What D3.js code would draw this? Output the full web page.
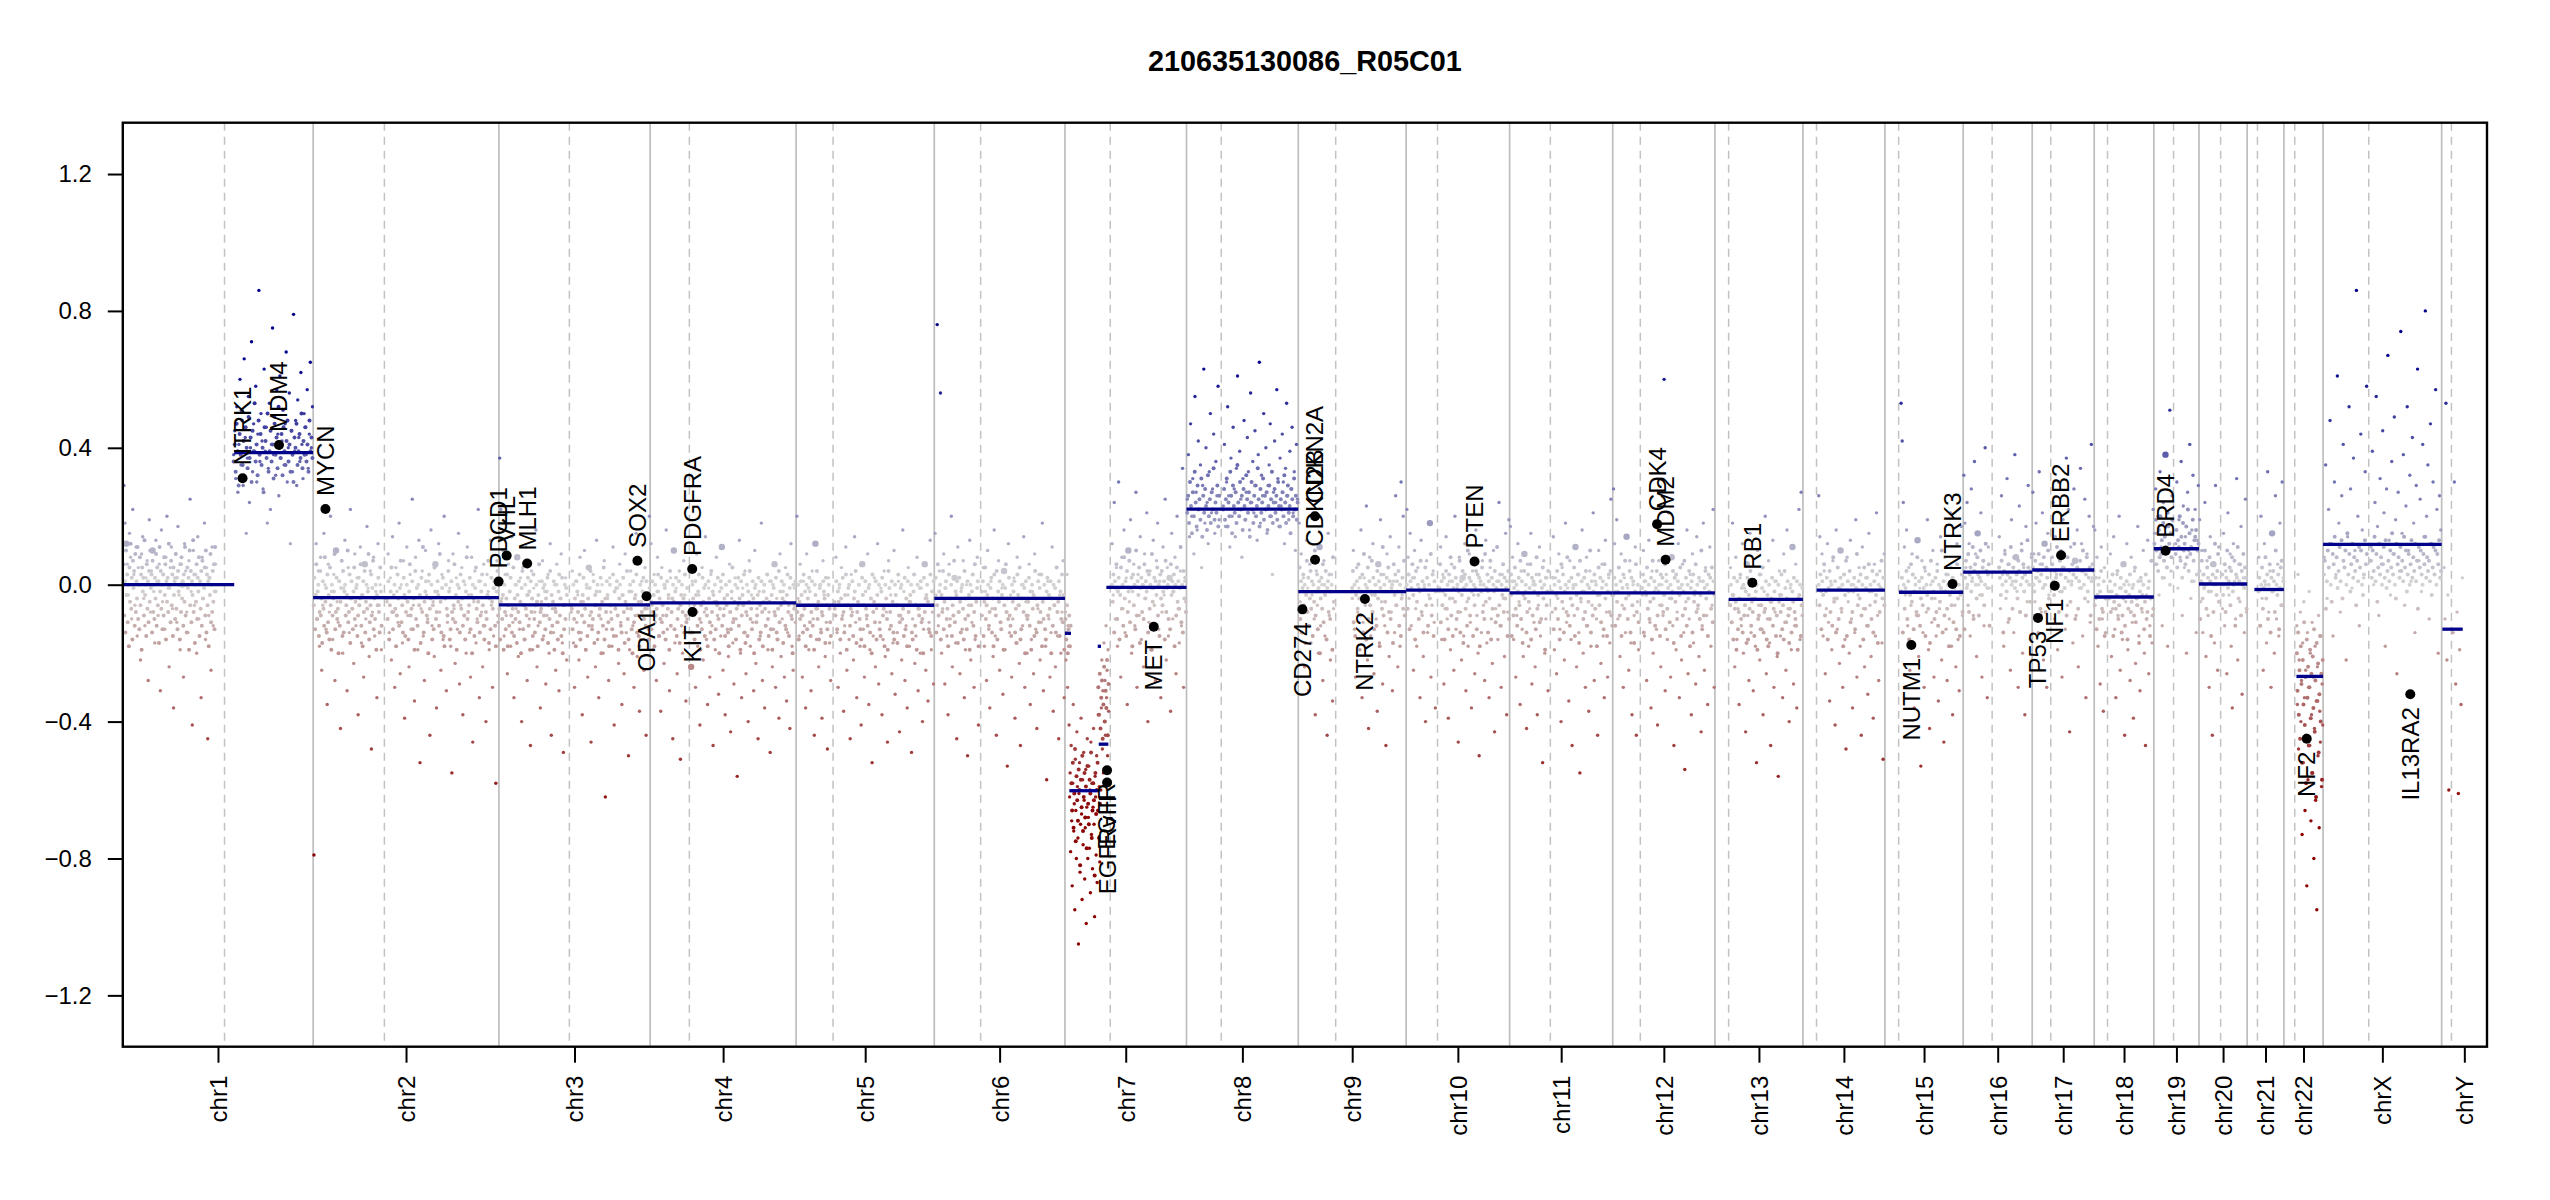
<!DOCTYPE html>
<html>
<head>
<meta charset="utf-8">
<script src="https://cdnjs.cloudflare.com/ajax/libs/d3/7.8.5/d3.min.js"></script>
<style>
  body { margin: 0; background: #ffffff; }
  svg text { font-family: "Liberation Sans", Arial, Helvetica, sans-serif; }
</style>
</head>
<body>
<svg id="chart" width="2550" height="1200"></svg>
<script>
// chromosome layout (hg19, Mb)
const chrNames = ["chr1","chr2","chr3","chr4","chr5","chr6","chr7","chr8","chr9","chr10","chr11","chr12",
  "chr13","chr14","chr15","chr16","chr17","chr18","chr19","chr20","chr21","chr22","chrX","chrY"];
const chrLength = [249.25, 243.2, 198.02, 191.15, 180.92, 171.12, 159.14, 146.36, 141.21, 135.53, 135.01, 133.85,
  115.17, 107.35, 102.53, 90.35, 81.2, 78.08, 59.13, 63.03, 48.13, 51.3, 155.27, 59.37];
const chrCentromere = [133.2, 93.3, 92.3, 51.4, 48.4, 60.7, 59.3, 45.5, 49.0, 41.1, 53.3, 36.1,
  17.9, 17.8, 18.0, 37.9, 24.3, 17.4, 25.8, 28.3, 13.5, 14.2, 59.8, 12.8];
// probe covered part of each arm
const armP = [[0.8,122],[0.3,90],[0.3,89.5],[0.3,49],[0.3,46],[0.3,58.5],[0.3,57.5],[0.3,43.5],[0.3,47],[0.3,39],[0.3,51],[0.3,34.5],
  null,null,null,[0.1,35],[0.1,22.5],[0.1,15.5],[0.3,24.5],[0.1,26.5],null,null,[0.5,58],[2.5,10]];
const armQ = [[144.5,249],[96,242.8],[94,197.8],[53,190.9],[50,180.6],[62,170.8],[61,158.9],[47.5,146.1],[70,141],[43,135.3],[55,134.8],[38,133.6],
  [19.5,115],[20,107.1],[20.5,102.3],[46.5,90.2],[25.5,81],[19,77.9],[28,59],[30,62.9],[14.5,48],[16.5,51.2],[62,155],[14,28]];

// scattered bins: log2 ratio x100 along each arm, "*" = large dot
const binsP = [
  "29 18 12* 6 -3 15 8 -10 22 3 -6 11 -15 5 0 -22 9 14 -4 -12 2 7 -28 19 -8 4 10* -2 -17 13 1 -9 6 -31 16 -5 3 -13 8 20 -1 -24 5 11 -7 -36 2 9 -11 17 -3 -19 6 0* -27 12 4 -8 -14 7 25 -2 -41 10 -6 3 -20 14 -10 1 -33 8 -4 18 -16 5 -45 -9 2 -25 11 -12 -2 6",
  "-79 -3 12 -10 4 -18 8 -25 -6 15 0 -13 -35 6 -8 20 -2 -16 3 -28 10* -5 -11 1 -42 7 -20 -1 13 -9 -31 5 -14 22 -4 -7 -23 9 -12 2 -38 -6 11 -17 -3 -27 6* -10 17 -1 -21 4 -48 -8 8 -15 -2 -33 12 -6 0 -19",
  "37 22 -4 10 -15 3 -9 -26 6 -2 -18 14 -11 -33 0 -7 8* -21 -13 2 -40 5 -6 -16 11 -28 -3 -10 -47 4 -19 -1 -8 16 -24 -12 1 -36 -5 7 -15 -2 -29 -9 3 -20 12 -44 -7 -14 0 -25 6 -11 -31 -4 9 -17 -49 -6 2 -22",
  "12 -6 -19 3 -11 -28 8 -2 -15 -37 5 -9 -23 0 16 -13 -4 -31 2 -8 -45 10* -17 -1 -26 -7 4 -51 -12 -20 7 -3 -34 -10",
  "20 -4 -15 6 -9 -27 1 -12 -36 9 -6 -19 -2 -31 4 -10 -44 12* -16 -7 -24 0 -13 -39 7 -3 -21 -11 -48 2 -17 -28",
  "15 -3 76 -12 4 56 -20 -7 9 -29 -1 -15 -38 6 -10 20 -24 -4 2* -17 -45 11 -8 -26 -2 -13 7 -33 -19 0 -50 -6 13 -22 -11 3 -30 -16 -5 8 -41",
  "-8 -22 -14 3 -30 -12 -18 -41 -62 -55 -78 -47 -69 -88 -58 -35 -72 -64 -95 -51 -66 -80 -43 -59 -74 -105 -61 -52 -84 -70 -39 -67 -92 -57 -76 -49 -63 -86 -71 -54 -99 -65 -45 -80 -68 -53 -77 -60 -90 -46 -73 -58 -83 -65 -42 -70 -97 -56 -62 -79 -50 -87 -66 -38 -74 -59 -81 -64 -60 -36 -22 -48 -31 -55 -17 -40 -28 -44 -12 -33 -25 -50 -19 -37",
  "25 38 14 47 20 31 9 55 27 16 42 22 35 5 29 63 18 40 24 12 33 50 21 28 44 15 36 26 58 19",
  "18 -5 9 -14 2 -24 -8 13 -1 -31 6 -17 -3 21 -10 -38 4 -6 -20 11* -12 0 -28 7 -15 -2 -44 15 -9 -22 3 -34 -7",
  "22 8 -4 15 -12 2 -25 10 -7 -18 5 -1 -33 13 -9 -21 0 -40 7 -14 -3 18* -27 -6 4 -11 -36",
  "17 -3 8 -16 1 -27 -9 12 -5 -35 4 -13 -21 9* -2 -42 6 -18 -7 15 -29 0 -11 -24 3 -38 -6 11 -15 -1 -52 7 -20 -10 2 -31",
  "28 12 -2 19 -10 5 -21 9 -6 -30 2 -14 14* -1 -25 7 -17 -38 0 -9 11 -44 -5 -19",
  "", "", "",
  "32 18 5 24 -6 12 -15 28 2 -9 36 9 -21 15* 0 -3 21 -27 7 -12 40 4 -33 11 -1",
  "27 9 -5 18 2 -14 33 6 -8 21 -22 12* 0 -30 15 -3",
  "16 -4 8 -18 2 -29 11 -10 -37 5 -14",
  "15 28 6 20 -3 33 11 -12 24 2 38* 9 -18 17 51 4 26",
  "19 -5 10 -14 3 24 -21 7 -9 -30 14 -2 -44 6* -17 29 0 -25 11",
  "", "",
  "8 35 -4 22 48 12 -15 30 3 61 18 -8 26 41 5 -22 14 52 28 -1 37 10 86 20 -12 44 16 2 33 58",
  "5 -10 53 -22 -3 -60"
];
const binsQ = [
  "38 45 31 52 27 41 60 35 48 29 66 43 15 37 55 24 40 71 33 47 39 58 30 44 86 36 50 42 28 63 39 46 18 34 53 22 41 75 38 49 32 57 44 26 61 37 42 51 35 47 68 30 40 56 12 45 33 79 39 48 29 54 43 36 62 41 31 50 46 38 57 34 44 65 40 52",
  "-5 9 -14 2 -22 14 -8 -30 5 -2 -11 18 -26 0 -17 7 -39 -4 11 -9 -24 3 -13 25 -6 -34 8 -1 -19 13 -52 -7 4 -15 -28 10 -3 -10 1 -44 16 -12 -5 -21 6* -36 -2 12 -8 -25 3 -16 20 -4 -31 -11 7 -1 -18 -55 9 -7 -23 2 -13 15 -29 -6 5 -38 -9 0 -20 11 -3 -14 -27 8 -46 -5 4 -17 -10 22 -33 1 -8 -24 6 -12 -40 3 -2 -19 13 -6 -30 -15 -1 -58 7 -11",
  "-8 4 -17 -30 1 -11 -3 -22 8 -14 -38 -5 10 -19 -1 -27 5* -9 -46 -12 3 -6 -24 13 -16 -33 -2 -10 0 -20 7 -62 -13 -4 -28 2 -8 -18 11 -41 -6 -15 -1 -23 6 -11 -35 -3 -26 9 -14 -7 -50 -19 4 -2 -12 -30 -9 15 -21 -5 -37 -16 1 -10 -25 5 -44 -7 -13 20",
  "-24* 1 -14 -6 -30 9 -18 -3 -41 -11 5 -22 -8 14 -16 -35 -1 -27 3 -12 -47 -5 -19 8 -9 -32 -2 -15 11* -25 -7 -38 0 -13 -21 6 -43 -4 -17 -29 2 -10 -56 -6 13 -20 -33 -1 -14 4 -26 -9 -40 7 -18 -3 -11 -31 10 -23 -7 -45 -2 -15 18 -28 -5 -36 -12 3 -19 -8 -49 1 -24 -13 6* -30 -4 -16 -39 9 -21 -10 -2 -27 5 -34 -14 -6 -42 12 -18 -25 -1 -11",
  "-5 8 -14 -30 -1 -20 5 -9 -37 -12 11 -25 -3 -16 -45 3 -8 -22 14 -11 -33 -6 0 -18 -41 6* -13 -27 -2 -10 9 -35 -19 -4 -52 -15 2 -24 -7 12 -29 -11 -1 -38 -16 4 -21 -8 -46 7 -13 -3 -26 -17 10 -32 -6 -14 1 -43 -9 -22 16 -2 -28 -12 -36 5 -18 -5 -49 -10 3 -23 -15 8 -31 -7 -20 -1 -40 -13 6* -25 -4 -34 -11 13 -19 -8 -29",
  "-9 5 -18 -2 -28 10 -13 -36 1 -7 -21 16 -15 -44 -4 7 -25 -11 -1 -32 4* -19 -8 -53 12 -14 -3 -27 -10 2 -39 -17 8 -6 -23 -47 0 -12 14 -30 -5 -20 -9 6 -35 -16 -2 -26 9 -13 -42 -7 3 -22 -11 18 -31 -4 -18 -57 1 -10 -27 -14 11 -37 -6 -24 5 -15 -45 -3 -20 -8 7 -33",
  "12 -3 24 -10 5 -18 30 -1 -27 8 -7 16 -14 2 -35 10* -5 19 -20 -2 6 -12 27 -30 3 -9 14 -16 0 -24 9 -4 21 -40 -11 4 -1 -19 13 -6 -28 7 18 -13 1 -33 -8 11 -3 25 -22 5 -15 2* -37 15 -10 -2 8 -26 20 -7 -17 4 -12 34 -30 1 -5",
  "23 41 17 30 52 26 11 37 20 46 28 14 34 61 22 39 25 8 31 48 19 27 43 33 16 56 24 36 21 45 29 13 38 65 18 32 26 50 22 40 15 29 35 47 20 3 27 42 24 57 31 17 37 23 44 30 12 34 53 26 19 39 28 46 21 33 10 41 25",
  "-4 10 -13 -27 5 -8 -1 -19 16 -33 -11 2 -6 23 -22 -42 8 -15 -3 12 -26 0 -10 -37 6* -17 19 -5 -29 3 -12 -47 9 -2 -21 14 -8 -31 1 -14 26 -6 -24 11 -18 30 -3 20 7 -9",
  "-2 11 -16 3 -29 -7 14 -10 -39 1 -19 6 -4 -25 20 -13 -1 -46 8 -8 -22 2* -15 12 -31 -5 -18 9 -11 -36 4 -3 -26 16 -9 -20 -50 0 -14 7 -6 -28 13 -17 -2 -33 5 -10 -23 10 -43 -7 1 -16 24 -12 -30 3 -4 -21 15 -38 -8 19",
  "-8 14 -19 2 -26 -4 9 -13 -40 5 -7 -22 18 -11 -1 -34 7 -16 -47 0 -9 11* -24 3 -14 -55 -5 16 -20 -2 -30 8 -12 -37 4 -18 -6 21 -28 1 -10 -44 10 -3 -23 6 -15 -33 13 -8 -27 2 -17 25 -12",
  "-3 10 -15 1 -28 -7 13 -11 -36 4 -20 -2 17 -13 -41 7 -6 -24 0 -9 60 -31 3 -16 21 -4 -27 8* -12 -47 2 -19 -8 12 -33 -1 -22 6 -14 -54 -5 16 -26 -10 3 -38 9 -17 -3 -29 14 -7 -21 1 -43 -12 18 -25 5 -9 -35 -2 11 -18 -6 22 -30",
  "5 -11 18 -3 -24 8 -16 -7 -35 2 -12 12 -20 -1 -43 6* -9 -28 15 -14 -4 -31 0 -18 -52 10 -6 -22 3 -13 -38 -2 20 -26 -10 7 -17 -47 -5 13 -30 -8 1 -21 -56 4 -15 -3 -33 9 -11 -25 16 -7 -40 -1 -19 11* -29 -12 6 -36 -4 22 -16 27 -9",
  "26 14 -2 9 -15 4 -26 -7 12 -11 -34 1 -19 7 -4 -41 16 -13 -1 -23 10* -8 -30 3 -16 -48 8 -5 -20 13 -10 -36 0 -14 19 -27 -3 5 -18 -44 11 -7 -24 2 -12 -32 15 -6 -21 -2 -39 6 -15 21 -9 -28 4 -1 -17 -51 9",
  "53 42 24 11 -3 16 -12 5 -25 -6 9 -17 -36 2 -9 13* -21 -1 -53 7 -14 -30 4 -8 19 -19 -42 0 -11 10 -27 -4 -15 6 -34 -7 14 -22 -2 -46 8 -13 -28 3 -10 21 -18 -38 1 -6 -24 12 -16 -31 -3 17 -9",
  "14 -7 26 3 -18 10 -4 31 -11 6 -25 19 1 -14 38 8* -2 -30 23 -8 12 -20 5 -38 17 -5 29 0 -16 9",
  "8 24 -10 14 3 -19 30 -2 10 -27 19 5 -13 37 -6 22 -43 11 1 -17 28 7* -9 16 -24 -1 34 12 -15 4 25 -33 9 -5 20 -11 41 2 17",
  "-2 9 -21 -7 14 -13 -33 3 -9 20 -25 -1 -16 6* -44 -5 12 -19 0 -28 8 -11 -39 4 -23 -6 17 -15 -31 1 -8 10 -20 -47 -3 13 -26 -12 7 -17 22",
  "12 30 -1 19 8 36 -9 23 5 14 -20 27 10 41 -4 16 32 1 22 -14 13 29",
  "-7 15 -12 4 -26 21 -3 9 -18 -36 12 1 -10 31 -22 6 -5 17 -32 2 -14 25 -8",
  "8 -12 20 -4 -25 12 0 -17 33 -8 4 -30 15* -2 -20 26 -10 6 -15 18 -6 30 2",
  "-12 -35 3 -48 -22 -61 -8 -40 -28 -73 -17 -52 -5 -33 -66 -25 -44 -88 -14 -57 -30 -2 -47 -20 -69 -38 -11 -55 -27 -80 -42 -18 -63 -34 -95 -24 -50 -9 -71 -37 -46 -15 -59 -29 -41",
  "11 39 0 24 55 17 -9 31 6 45 21 -18 28 67 13 -3 36 9 49 19 -26 27 4 74 15 38 -6 23 52 10 32 1 43 18 -14 29 63 7 25 -2 41 14 80 20 35 -10 47 12 30 3 57 22 -20 26 16",
  "-14 30 -29 -8 -61 -19 -35 2"
];

// dense core of the bin cloud. Letter code per bin: A..Z = 0.00..0.25, z..a = -0.01..-0.26, 9..0 = -0.27..-0.36;
// strings with spaces are plain x100 integers
const coreP = [
  "GrBmKxDpAiFvMtCkHzEoJsBwLqAnIuDhFyCrNxAlGtBpEvKzDmHsAqCwJoFuBjLyEtAnDrIxGkBvCsMzApHuDlFxBqJtCnEyAkGsIwBoDvLrAmFzChKuEpBxNsDjAvGqCyIlBtEoHwAzFrKmDuBiCxJpAsEvGnLy",
  "uCnxGqyAlsErwjBtoIvzmDpxkFuhArwyJnsCqtgBovzHlEmyAruxKpsDjwBtnyFqvzAlrCuwGoxiBsEmvAtyJkpuDrzHnwqAhxuCsmFyo",
  "tkvBqxhAsnwDiuoyCrmtFlwqAjxsBpvgzEnukAtrxCoyhBswlDqmuAvixGpstBkzrAnwyCjuqEmxovBhtsApkyDrwlCgunAqzx",
  "vnBsxiArtyDlwqCpumAzkrBtxhEoswAvnyClqtBjuxAswmDrpz",
  "usAkvqBxrmDtyiAnwzCplsBouhAxtEqvkzAmsrBywjCunxAtpl",
  "wCmuGryAkxsEnvzBqtiDowAlurHpyxBjsCvmzAtkEqwnBrxhAuyDosGlvzBi",
  "-10 -16 -6 -20 -13 -9 -18 -12 -58 -66 -52 -71 -61 -48 -75 -56 -63 -69 -54 -60 -82 -57 -65 -50 -72 -62 -55 -68 -59 -77 -53 -64 -70 -57 -61 -49 -74 -66 -58 -63 -85 -55 -67 -60 -52 -30 -38 -26 -42 -33 -28 -45 -35 -24 -40 -31 -36 -22 -44 -29",
  "21 26 18 30 23 15 27 20 33 24 17 29 22 25 19 31 14 26 21 28 23 16 32 20 25 18 27 22 34 19 24 21 29 17 26",
  "yFqBmzDuAjxHsCowEtBlAvKryDnzBgwCtGpAxEkzBsDqyAhIv",
  "AtDnBzGxCkEvAqyHsBmzFuCoAwJrDlBy",
  "xDlBrzFtAoyCuHqBjxEwAmsDvzGkCrByAnItxDpBqzFwAhCuyE",
  "xCoAvyFrBlzDtHwAqxEmCuBjyGsAp",
  "", "", "",
  "EnCHzAJsDFyBLqEGAwIDrCKBxFHuAMEzDGo",
  "FAyHCqEJBtDGzIAsFCKw",
  "uCnxAqyEtsBlw",
  "MGTKPEQIUJNCSHOLRFVKMAPIT",
  "EqBHwDzKAtFCyIBlGDsAMCxEJv",
  "", "",
  "DHtBKFMAvJGOCIzELBNwHFKAPDJyGMCIEuHBLFKAxDNGJ",
  ""
];
const coreQ = [
  "36 41 33 47 39 29 44 38 51 35 42 31 46 40 34 49 37 43 30 45 39 53 36 41 32 48 38 44 35 40 27 46 42 37 50 33 39 45 36 41 31 47 38 43 34 52 40 37 44 32 46 39 35 42 48 36 41 33 45 38 30 43 40 47 35 39 44 37 50 34 42 38 46 36 41 33 48 39 43 37",
  "wqBkuyFsnxAtirDwozHpumCxlsAvkyGrtBnwhEqzoAuxjCsLmvyBrpgDtwAkunFyqsBxoJvmzCliwAtrEyknBsquGpxhAvzmDtwoBrkyIqsuCnxgAwlzFtpvBmryDuokAsqxHjwnCvtzBoiyEr",
  "utnAqwiBysmDkvrxCpthAlwozEsnqBjxuyAmrtCgvoFkwsBxpiAuqnDlytzBrhwAomxCsjvuEqkyAtngBpwxDmrliAvsyCqtoBxukz",
  "tmAwrkBxsoyDqhunCvzlAtriBwpmEsyxkAnvuCqgtBzoDrwlAuxmiBsnyFpqvAktzCowhBrxuDmjsAlyvEqtnBwgzAprxCkumBsiyAtowDqlvBnxhAzsrCmktEpyuBwjAvonxDslzCrqgAtuB",
  "trBnyvAkwqCsmxDhuzAotrBlwyEjsvAqnkCxuiBtrozAmwgDsvpBkxuAnlyCrtiAwqhEzsoBvmkAxujDrpzAqtlCnwiBsvxAmkyDouhAtrzBpqgCswxAvnmDlyuB",
  "yBlvFquxAoszCmwiDtrEkyvBpnxAhuzGswqCrolAvyBmtjDxuFknwAszgBrqvCoyhAtxlEwmuBpzsDivqAnkyCrxtBgwoAuzmFsvBlyqDpxh",
  "AvDmBzGqyCkxFtAoIwBlEsyHpzCiDuAnKrBxFjzCsAqGwByEmDtAhJvzCoBxFrAlDwEuyBkHszAqCnGxByDiArFvBtzLpAmEwCs",
  "22 28 19 25 31 17 24 20 33 26 15 29 23 21 27 18 35 24 20 30 22 26 16 28 23 19 32 25 21 27 14 24 30 22 18 26 29 20 23 34 25 17 28 21 24 31 19 26 22 27 16 23 29 20 25 33 18 24 28 21 26 19 30 23 17 25 22 27 20 32 24 18 26 29 21 23 15 28 25 20 31 22 26 19 24",
  "zEpAlxBtGwCryDmJvAkzFqBuyHsCnxAoEwBizDtLrAvyCmFsBqzAjGxDuByEoAlwCtHrz",
  "zGpBuyCkxEtAnDwIrBlzFvCqAsyHmBxEjzDtAoKwCrByGlAuzEnDxCiByFsAqJvzDmBwHkCtAyEpzLrBuDoAxGsCwzBlEq",
  "yCnAtxEqBkzGvDmyAsIrBowCuzFlAxtDjHwByqCsEoAvzKmBryDtAixFuCpzBnGwAlyDsErx",
  "zDmByxFtAqvCkHwBozEryAlDuCsxGnBtzIpAwyEjCvDqBzxFlAryHtCoAwEizBmDvyGsAuCqxKnBrzEwAlDyCtFpBx",
  "uApxkCtvhBnswDqzmAruyjCkxtEovsBlwyAhqrDnuzFmstBkxiAqvwCotyBlrgAvxsDnukEzpwBrjtAmyvCsqoBhwxAluz",
  "AuDnBxGryCkzEsAoIvBmwFqzCtAiDxHlByEpAsyCnzJuBwDrAkFtzCoGyAqEmBvxDjAszHwCu",
  "yCmAtzEqBkxGvDnyAsIrBowCuzFlAxtDjHwByqCsEoAvzKmBryDtAixFuCpzBnGwAlyDs",
  "FCxHAmEJByDGqCLAtFIzBDwHEsAKCGyDrBNFAvEI",
  "GBxECLAsHDyFJzCrIBEvAGDMqCFtBHzEKAwDIyCFrBGE",
  "wBsyDlvAtxEquzCmrwAoyBktxDsvzArFpwuBjyCtxAnvDqszBlwHrt",
  "JQFNLUHOCSKMGRIWEPJLBTHNOQDKM",
  "DxAGsCKzBFuEIyAHoDCLwBGrEAJzFCt",
  "yCoAFtzBIwDqAGmCyEBsKAxDnzFHuB",
  "-20 -31 -14 -38 -25 -45 -18 -29 -52 -22 -35 -11 -41 -27 -58 -16 -33 -24 -47 -30 -19 -39 -26 -55 -21 -36 -13 -43 -28 -62 -17 -34 -23 -49 -32 -15 -40 -26 -57 -22",
  "HCKEOBJvFMDIAGLCNzEHBKFPDJAwMGICLEHBOFKyDJAGNCIEMBHtLFKDAJGOCIEHBMxFLDKAJGNCE",
  ""
];

// segments: chromosome index, start/end (Mb), mean
const segChr   = [0, 0, 1, 2, 3, 4, 5, 6, 6, 6, 6, 6, 7, 8, 9, 10, 11, 12, 13, 14, 15, 16, 17, 18, 19, 20, 21, 22, 23];
const segStart = [0, 145.9, 0, 0, 0, 0, 0, 0, 5.7, 42.9, 44.2, 54.2, 0, 0, 0, 0, 0, 18, 18, 18.5, 0, 0, 0, 0, 0, 9.5, 16.4, 0, 0.9];
const segEnd   = [145.9, 249.25, 243.2, 198.02, 191.15, 180.92, 171.12, 7.9, 45.0, 47.2, 56.8, 159.14, 146.36, 141.21, 135.53, 135.01, 133.85,
  115.17, 107.35, 102.53, 90.35, 81.2, 78.08, 59.13, 63.03, 48.13, 51.3, 155.27, 27.6];
const segMean  = [0.0, 0.386, -0.038, -0.059, -0.053, -0.060, -0.040, -0.142, -0.602, -0.18, -0.466, -0.008, 0.221, -0.020, -0.016, -0.024, -0.024,
  -0.043, -0.016, -0.022, 0.037, 0.043, -0.036, 0.105, 0.002, -0.014, -0.268, 0.118, -0.130];

// highlighted genes
const geneNames = ["NTRK1","MDM4","MYCN","PDCD1","VHL","MLH1","SOX2","OPA1","PDGFRA","KIT","EGFR","EGFRvIII","MET","CD274",
  "CDKN2A","CDKN2B","NTRK2","PTEN","CDK4","MDM2","RB1","NUTM1","NTRK3","TP53","NF1","ERBB2","BRD4","NF2","IL13RA2"];
const geneChr = [0,0,1,1,2,2,2,2,3,3,6,6,6,8,8,8,8,9,11,11,12,14,14,16,16,16,18,21,22];
const genePos = [156.8, 204.5, 16.08, 242.8, 10.18, 37.03, 181.4, 193.3, 55.1, 55.5, 55.1, 55.2, 116.3, 5.45,
  21.97, 22.0, 87.3, 89.6, 58.1, 69.2, 48.9, 34.6, 88.5, 7.57, 29.5, 37.8, 15.4, 29.9, 114.2];
const geneRatio = [0.311, 0.408, 0.221, 0.009, 0.085, 0.062, 0.070, -0.034, 0.046, -0.080, -0.542, -0.578, -0.123, -0.072,
  0.200, 0.073, -0.042, 0.068, 0.177, 0.073, 0.006, -0.176, 0.002, -0.097, -0.003, 0.086, 0.099, -0.450, -0.320];

const yTicks = [-1.2, -0.8, -0.4, 0.0, 0.4, 0.8, 1.2];
const title = "210635130086_R05C01";

// ---------------------------------------------------------------
const svg = d3.select("#chart");
const plotLeft = 122.8, plotRight = 2487, plotTop = 122.7, plotBottom = 1046.7;

const offsets = [0, ...d3.cumsum(chrLength)].slice(0, chrLength.length);
const total = d3.sum(chrLength);

const x = d3.scaleLinear().domain([0, total]).range([plotLeft, plotRight]);
const y = d3.scaleLinear().domain([-1.35, 1.35]).range([plotBottom, plotTop]);
const col = d3.scaleLinear().domain([-0.675, 0, 0.675])
  .range(["darkred", "lightgrey", "darkblue"]).interpolate(d3.interpolateRgb).clamp(true);

svg.append("clipPath").attr("id", "plotclip")
  .append("rect").attr("x", plotLeft).attr("y", plotTop).attr("width", plotRight - plotLeft).attr("height", plotBottom - plotTop);
const plot = svg.append("g").attr("clip-path", "url(#plotclip)");

// chromosome borders and centromeres
plot.append("g").selectAll("line").data(offsets.slice(1))
  .join("line")
  .attr("x1", d => x(d)).attr("x2", d => x(d))
  .attr("y1", plotTop).attr("y2", plotBottom)
  .attr("stroke", "#bebebe").attr("stroke-width", 1.7);

plot.append("g").selectAll("line").data(chrCentromere)
  .join("line")
  .attr("x1", (d, i) => x(offsets[i] + d)).attr("x2", (d, i) => x(offsets[i] + d))
  .attr("y1", plotTop).attr("y2", plotBottom)
  .attr("stroke", "#c2c2c2").attr("stroke-width", 1.5).attr("stroke-dasharray", "8,6");

// bins
const codeChars = "0123456789abcdefghijklmnopqrstuvwxyzABCDEFGHIJKLMNOPQRSTUVWXYZ";
function parseBins(s) {
  s = s.trim();
  if (s === "") return [];
  if (!/\s/.test(s) && !/^-?\d+\*?$/.test(s)) {
    return Array.from(s).map(ch => ({ v: (codeChars.indexOf(ch) - 36) / 100, big: false }));
  }
  return s.split(/\s+/).map(t => ({ v: parseFloat(t) / 100, big: t.endsWith("*") }));
}
const bins = [];
function addArm(chrIndex, arm, s, kind) {
  if (!arm) return;
  const vals = parseBins(s);
  const step = (arm[1] - arm[0]) / vals.length;
  vals.forEach((b, j) => bins.push({ pos: offsets[chrIndex] + arm[0] + (j + 0.5) * step, v: b.v, big: b.big, kind }));
}
chrNames.forEach((c, i) => {
  addArm(i, armP[i], coreP[i], "core");
  addArm(i, armQ[i], coreQ[i], "core");
  addArm(i, armP[i], binsP[i], "outer");
  addArm(i, armQ[i], binsQ[i], "outer");
});

plot.append("g").selectAll("circle").data(bins)
  .join("circle")
  .attr("cx", d => x(d.pos))
  .attr("cy", d => y(d.v))
  .attr("r", d => d.big ? 3.2 : (d.kind === "core" ? 2.0 : 1.7))
  .attr("fill", d => col(d.v));

// segments
plot.append("g").selectAll("line").data(segMean)
  .join("line")
  .attr("x1", (d, i) => x(offsets[segChr[i]] + segStart[i]))
  .attr("x2", (d, i) => x(offsets[segChr[i]] + segEnd[i]))
  .attr("y1", d => y(d)).attr("y2", d => y(d))
  .attr("stroke", "darkblue").attr("stroke-width", 3.3);

// genes
const genes = geneNames.map((n, i) => ({ name: n, pos: offsets[geneChr[i]] + genePos[i], v: geneRatio[i] }));
const gg = svg.append("g");
gg.selectAll("circle").data(genes)
  .join("circle")
  .attr("cx", d => x(d.pos)).attr("cy", d => y(d.v))
  .attr("r", 5).attr("fill", "black");
gg.selectAll("text").data(genes)
  .join("text")
  .attr("transform", d => `translate(${x(d.pos)},${y(d.v) + (d.v < 0 ? 13 : -13)}) rotate(-90)`)
  .attr("dy", "0.35em")
  .attr("text-anchor", d => d.v < 0 ? "end" : "start")
  .attr("font-size", 24)
  .attr("fill", "black")
  .text(d => d.name);

// y axis
const yAxis = svg.append("g").attr("transform", `translate(${plotLeft},0)`)
  .call(d3.axisLeft(y).tickValues(yTicks).tickFormat(d3.format(".1f")).tickSize(15).tickPadding(16));
yAxis.select(".domain").remove();
yAxis.selectAll(".tick line").attr("stroke", "black").attr("stroke-width", 2);
yAxis.selectAll(".tick text").attr("font-size", 24).attr("font-family", "Liberation Sans, Arial, sans-serif").attr("fill", "black");

// x axis (chromosome centres)
const centres = chrLength.map((l, i) => offsets[i] + l / 2);
const xAxis = svg.append("g").attr("transform", `translate(0,${plotBottom})`)
  .call(d3.axisBottom(x).tickValues(centres).tickFormat((d, i) => chrNames[i]).tickSize(16));
xAxis.select(".domain").remove();
xAxis.selectAll(".tick line").attr("stroke", "black").attr("stroke-width", 2);
xAxis.selectAll(".tick text")
  .attr("transform", "rotate(-90)")
  .attr("x", -29).attr("y", 0).attr("dy", "0.35em")
  .attr("text-anchor", "end")
  .attr("font-size", 24).attr("font-family", "Liberation Sans, Arial, sans-serif").attr("fill", "black");

// box
svg.append("rect")
  .attr("x", plotLeft).attr("y", plotTop).attr("width", plotRight - plotLeft).attr("height", plotBottom - plotTop)
  .attr("fill", "none").attr("stroke", "black").attr("stroke-width", 2.4);

// title
svg.append("text")
  .attr("x", (plotLeft + plotRight) / 2).attr("y", 70.7)
  .attr("text-anchor", "middle")
  .attr("font-size", 28.8).attr("font-weight", "bold")
  .text(title);
</script>
</body>
</html>
